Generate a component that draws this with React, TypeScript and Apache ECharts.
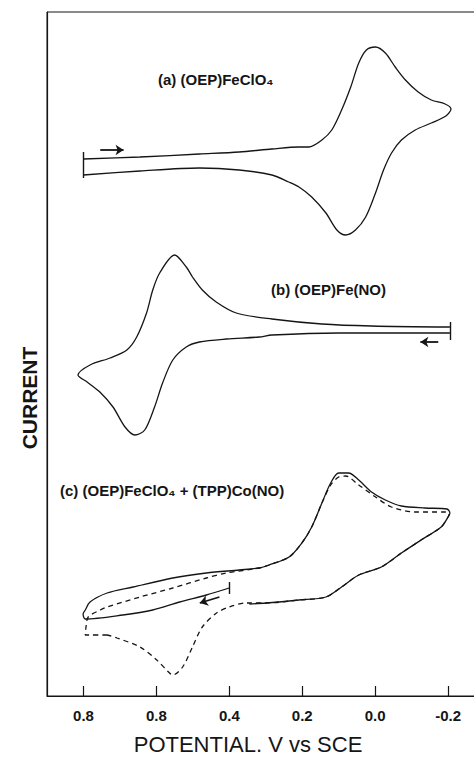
import React, { useEffect, useRef } from 'react';
import * as echarts from 'echarts';

// Potential axis (V vs SCE), drawn reversed as in the original figure
const tickValues = [0.8, 0.6, 0.4, 0.2, 0.0, -0.2];
const tickLabels = ['0.8', '0.8', '0.4', '0.2', '0.0', '-0.2'];

// Current in relative units (height above the potential axis)
// (a) (OEP)FeClO4 : [E, I]
const curveA: number[][] = [
  [0.800, 537], [0.645, 539], [0.482, 542], [0.373, 544], [0.283, 547], [0.209, 549],
  [0.182, 549], [0.146, 556], [0.119, 566], [0.092, 586], [0.067, 609], [0.045, 633],
  [0.024, 646], [-0.001, 649], [-0.028, 643], [-0.055, 629], [-0.083, 616], [-0.118, 604],
  [-0.154, 596], [-0.192, 592], [-0.208, 587], [-0.194, 580], [-0.154, 573], [-0.110, 566],
  [-0.072, 556], [-0.045, 543], [-0.023, 526], [-0.001, 503], [0.026, 479], [0.054, 466],
  [0.081, 461], [0.105, 466], [0.135, 483], [0.174, 499], [0.209, 509], [0.237, 514],
  [0.283, 521], [0.373, 526], [0.482, 528], [0.645, 525], [0.800, 521],
];

// (b) (OEP)Fe(NO)
const curveB: number[][] = [
  [-0.205, 369], [0.010, 370], [0.146, 372], [0.283, 377], [0.381, 383], [0.436, 394],
  [0.474, 406], [0.501, 419], [0.518, 429], [0.550, 441], [0.591, 423], [0.610, 406],
  [0.627, 383], [0.654, 359], [0.681, 346], [0.727, 338], [0.782, 331], [0.815, 321],
  [0.790, 314], [0.755, 304], [0.719, 289], [0.686, 269], [0.659, 261], [0.632, 266],
  [0.605, 289], [0.583, 313], [0.555, 336], [0.518, 349], [0.482, 354], [0.408, 357],
  [0.318, 359], [0.283, 361], [0.100, 363], [-0.205, 363],
];

// (c) (OEP)FeClO4 + (TPP)Co(NO), first scan (solid)
const curveCSolid: number[][] = [
  [0.400, 108], [0.463, 101], [0.536, 94], [0.610, 86], [0.692, 81], [0.795, 77],
  [0.801, 82], [0.795, 86], [0.782, 94], [0.735, 103], [0.664, 109], [0.555, 118],
  [0.463, 123], [0.373, 126], [0.318, 128], [0.291, 131], [0.236, 139], [0.201, 153],
  [0.174, 169], [0.146, 193], [0.122, 213], [0.100, 223], [0.073, 223], [0.045, 216],
  [0.010, 204], [-0.028, 196], [-0.072, 190], [-0.137, 188], [-0.197, 187], [-0.205, 183],
  [-0.200, 179], [-0.181, 169], [-0.126, 156], [-0.072, 143], [-0.017, 129], [0.045, 121],
  [0.092, 109], [0.135, 99], [0.209, 96], [0.299, 93], [0.345, 92],
];

// (c) second scan (dashed)
const curveCDashed: number[][] = [
  [0.735, 61], [0.795, 61], [0.793, 69], [0.787, 79], [0.754, 86], [0.735, 89],
  [0.645, 99], [0.555, 108], [0.463, 118], [0.408, 123], [0.318, 128], [0.291, 131],
  [0.236, 139], [0.201, 153], [0.174, 169], [0.146, 193], [0.122, 211], [0.100, 219],
  [0.081, 220], [0.045, 211], [-0.001, 199], [-0.045, 189], [-0.110, 184], [-0.192, 184],
  [-0.203, 182], [-0.200, 179], [-0.181, 169], [-0.126, 156], [-0.072, 143], [-0.017, 129],
  [0.045, 121], [0.092, 109], [0.135, 99], [0.209, 96], [0.299, 93], [0.354, 93],
  [0.400, 89], [0.435, 83], [0.474, 69], [0.501, 49], [0.528, 29], [0.555, 21],
  [0.564, 23], [0.599, 36], [0.645, 49], [0.708, 58], [0.735, 61],
];

// Scan start markers and scan-direction arrows: [[E1, I1], [E2, I2]]
const startA = [[0.8, 544], [0.8, 518]];
const startB = [[-0.205, 374], [-0.205, 356]];
const startC = [[0.4, 114], [0.4, 102]];
const arrowA = [[0.754, 546], [0.690, 546]];
const arrowB = [[-0.173, 354], [-0.124, 354]];
const arrowC = [[0.427, 99], [0.481, 93]];

const labelA = '(a) (OEP)FeClO₄';
const labelB = '(b) (OEP)Fe(NO)';
const labelC = '(c) (OEP)FeClO₄ + (TPP)Co(NO)';
const xTitle = 'POTENTIAL. V vs SCE';
const yTitle = 'CURRENT';

const INK = '#151515';
const FONT = '"Liberation Sans", Arial, Helvetica, sans-serif';

export default function App() {
  const ref = useRef<HTMLDivElement>(null);
  useEffect(() => {
    if (!ref.current) return;
    const chart = echarts.init(ref.current, undefined, { renderer: 'svg' });
    const curve = (data: number[][], dashed: boolean, z: number) => ({
      type: 'line',
      data,
      symbol: 'none',
      showSymbol: false,
      smooth: 0.3,
      silent: true,
      z,
      lineStyle: { color: INK, width: 1.3, type: dashed ? [5, 4] : 'solid' },
    });
    const seg = (coords: number[][], arrow: boolean) => ({
      type: 'lines',
      coordinateSystem: 'cartesian2d',
      silent: true,
      z: 5,
      symbol: arrow ? ['none', 'arrow'] : ['none', 'none'],
      symbolSize: arrow ? 8 : 0,
      lineStyle: { color: INK, width: arrow ? 1.8 : 1.4, opacity: 1, curveness: 0 },
      data: [{ coords }],
    });
    chart.setOption({
      animation: false,
      backgroundColor: '#ffffff',
      grid: {
        show: true,
        left: 47,
        top: 12,
        bottom: 62,
        right: 0,
        borderColor: INK,
        borderWidth: 1,
        backgroundColor: 'transparent',
      },
      xAxis: {
        type: 'value',
        inverse: true,
        min: -0.4,
        max: 0.9,
        interval: 0.2,
        axisLine: { show: true, onZero: false, lineStyle: { color: INK, width: 1.2 } },
        axisTick: { show: true, inside: true, length: 10, lineStyle: { color: INK, width: 1.2 } },
        splitLine: { show: false },
        axisLabel: {
          margin: 12,
          fontSize: 15,
          fontWeight: 'bold',
          fontFamily: FONT,
          color: INK,
          showMaxLabel: false,
          formatter: (v: number) => {
            const i = tickValues.findIndex((t) => Math.abs(t - v) < 1e-6);
            return i >= 0 ? tickLabels[i] : '';
          },
        },
      },
      yAxis: {
        type: 'value',
        min: 0,
        max: 684,
        axisLine: { show: true, onZero: false, lineStyle: { color: INK, width: 1.2 } },
        axisTick: { show: false },
        axisLabel: { show: false },
        splitLine: { show: false },
      },
      graphic: [
        {
          type: 'text',
          x: 29,
          y: 398,
          rotation: Math.PI / 2,
          style: {
            text: yTitle,
            fill: INK,
            font: `bold 21px ${FONT}`,
            textAlign: 'center',
            textVerticalAlign: 'middle',
          },
        },
        {
          type: 'text',
          x: 248,
          y: 744,
          style: {
            text: xTitle,
            fill: INK,
            font: `22px ${FONT}`,
            textAlign: 'center',
            textVerticalAlign: 'middle',
          },
        },
        {
          type: 'text',
          x: 158,
          y: 79,
          style: { text: labelA, fill: INK, font: `bold 15px ${FONT}`, textAlign: 'left', textVerticalAlign: 'middle' },
        },
        {
          type: 'text',
          x: 271,
          y: 289,
          style: { text: labelB, fill: INK, font: `bold 15px ${FONT}`, textAlign: 'left', textVerticalAlign: 'middle' },
        },
        {
          type: 'text',
          x: 60,
          y: 490,
          style: { text: labelC, fill: INK, font: `bold 15px ${FONT}`, textAlign: 'left', textVerticalAlign: 'middle' },
        },
      ],
      series: [
        curve(curveA, false, 3),
        curve(curveB, false, 3),
        curve(curveCDashed, true, 2),
        curve(curveCSolid, false, 3),
        seg(startA, false),
        seg(startB, false),
        seg(startC, false),
        seg(arrowA, true),
        seg(arrowB, true),
        seg(arrowC, true),
      ],
    });
    return () => chart.dispose();
  }, []);
  return (
    <div
      style={{
        position: 'fixed',
        left: 0,
        top: 0,
        width: 474,
        height: 758,
        overflow: 'hidden',
        background: '#fff',
      }}
    >
      <div ref={ref} style={{ width: 524, height: 758 }} />
    </div>
  );
}
